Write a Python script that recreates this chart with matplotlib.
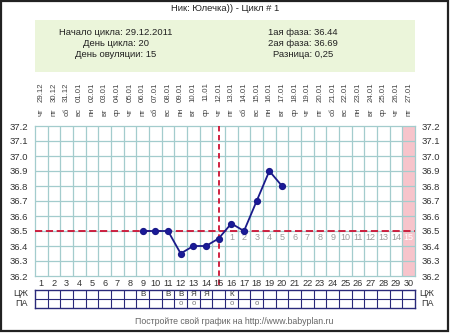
import matplotlib
matplotlib.use("Agg")
import matplotlib.pyplot as plt
from matplotlib.patches import Rectangle
from matplotlib.transforms import blended_transform_factory

plt.rcParams['font.family'] = ['Liberation Sans', 'DejaVu Sans']

# chart data
title = "Ник: Юлечка)) - Цикл # 1"
info_left = ["Начало цикла: 29.12.2011", "День цикла: 20", "День овуляции: 15"]
info_right = ["1ая фаза: 36.44", "2ая фаза: 36.69", "Разница: 0,25"]
footer = "Постройте свой график на http://www.babyplan.ru"

days = list(range(1, 31))
dates = ['29.12', '30.12', '31.12', '01.01', '02.01', '03.01', '04.01', '05.01',
         '06.01', '07.01', '08.01', '09.01', '10.01', '11.01', '12.01', '13.01',
         '14.01', '15.01', '16.01', '17.01', '18.01', '19.01', '20.01', '21.01',
         '22.01', '23.01', '24.01', '25.01', '26.01', '27.01']
weekdays = ['чт', 'пт', 'сб', 'вс', 'пн', 'вт', 'ср', 'чт', 'пт', 'сб', 'вс', 'пн',
            'вт', 'ср', 'чт', 'пт', 'сб', 'вс', 'пн', 'вт', 'ср', 'чт', 'пт', 'сб',
            'вс', 'пн', 'вт', 'ср', 'чт', 'пт']

temp_days = [9, 10, 11, 12, 13, 14, 15, 16, 17, 18, 19, 20]
temps = [36.5, 36.5, 36.5, 36.35, 36.4, 36.4, 36.45, 36.55, 36.5, 36.7, 36.9, 36.8]

ovulation_day = 15
cover_line = 36.5
luteal_numbers = list(range(1, 16))   # days 16..30
yticks = [37.2, 37.1, 37.0, 36.9, 36.8, 36.7, 36.6, 36.5, 36.4, 36.3, 36.2]

cm_marks = {9: 'В', 11: 'В', 12: 'В', 13: 'Я', 14: 'Я', 16: 'К'}   # ЦЖ
sex_marks = [12, 13, 16, 18]                                       # ПА

W, H = 450, 333
fig = plt.figure(figsize=(W / 100, H / 100), dpi=100)
fig.patch.set_facecolor('white')

# background layer in pixel coordinates
bg = fig.add_axes([0, 0, 1, 1])
bg.set_xlim(0, W)
bg.set_ylim(H, 0)
bg.axis('off')
bg.add_patch(Rectangle((0.8, 0.8), W - 2.5, H - 3.0, fill=False, ec='#222222', lw=1.6))
bg.add_patch(Rectangle((35, 20), 380, 52, fc='#ebf5da', ec='none'))
bg.text(225, 8.5, title, ha='center', va='center', fontsize=6.8, color='#222222')
for i, (l, r) in enumerate(zip(info_left, info_right)):
    y = 32.5 + 11 * i
    bg.text(116, y, l, ha='center', va='center', fontsize=6.8, color='#222222')
    bg.text(303, y, r, ha='center', va='center', fontsize=6.8, color='#222222')
bg.text(234, 321, footer, ha='center', va='center', fontsize=6.3, color='#666666')
for yy, lab in [(294, 'ЦЖ'), (303, 'ПА')]:
    bg.text(21, yy, lab, ha='center', va='center', fontsize=6.5, color='#333333')
    bg.text(427, yy, lab, ha='center', va='center', fontsize=6.5, color='#333333')

# main temperature chart
ax = fig.add_axes([35 / W, 57 / H, 380 / W, 150 / H])
ax.set_xlim(0.5, 30.5)
ax.set_ylim(36.2, 37.2)
grid_c = '#a3cccd'
for x in range(1, 30):
    ax.axvline(x + 0.5, color=grid_c, lw=0.9, zorder=1)
for t in yticks[1:-1]:
    ax.axhline(t, color=grid_c, lw=0.9, zorder=1)
for s in ax.spines.values():
    s.set_color(grid_c)
    s.set_linewidth(0.9)
ax.axvspan(29.5, 30.5, color='#f7c4cb', zorder=0.5, lw=0)

ax.set_xticks([])
ax.set_yticks(yticks)
ax.set_yticklabels([f"{t:.1f}" for t in yticks])
ax.tick_params(axis='y', length=0, labelsize=6.8, labelcolor='#333333', pad=5,
               labelright=True)

ax.axhline(cover_line, color='#cc1133', lw=1.3, ls=(0, (4, 2)), zorder=3)
ax.plot([ovulation_day, ovulation_day], [1.0, -0.08], color='#cc1133', lw=1.3,
        ls=(0, (3, 2)), transform=blended_transform_factory(ax.transData, ax.transAxes),
        clip_on=False, zorder=3)

ax.plot(temp_days, temps, color='#1a1a8a', lw=1.3, marker='o', ms=4.2,
        mfc='#1a1a9a', mec='#1a1a8a', zorder=5)

for k, n in enumerate(luteal_numbers):
    d = ovulation_day + 1 + k
    ax.text(d, 36.455, str(n), ha='center', va='center', fontsize=6.5,
            color='white' if d == 30 else '#9a9a9a', zorder=4)

tr = blended_transform_factory(ax.transData, ax.transAxes)
for d, dt, wd in zip(days, dates, weekdays):
    ax.text(d, 1.227, dt, rotation=90, ha='center', va='center', fontsize=5.6,
            color='#444444', transform=tr)
    ax.text(d, 1.095, wd, rotation=90, ha='center', va='center', fontsize=5.6,
            color='#444444', transform=tr)
    ax.text(d, -0.047, str(d), ha='center', va='center', fontsize=6.6,
            color='#333333', transform=tr)

# ЦЖ / ПА table
tab = fig.add_axes([35 / W, 25 / H, 380 / W, 18 / H])
tab.set_xlim(0.5, 30.5)
tab.set_ylim(2, 0)
tab.set_xticks([])
tab.set_yticks([])
for s in tab.spines.values():
    s.set_color('#2a2a7a')
    s.set_linewidth(1.0)
for x in range(1, 30):
    tab.axvline(x + 0.5, color='#2a2a7a', lw=0.8)
tab.axhline(1, color='#2a2a7a', lw=0.8)
for d, m in cm_marks.items():
    tab.text(d, 0.5, m, ha='center', va='center', fontsize=5.8, color='#333333')
for d in sex_marks:
    tab.text(d, 1.5, 'o', ha='center', va='center', fontsize=5.5, color='#777777')

fig.savefig('out.png', dpi=100)
